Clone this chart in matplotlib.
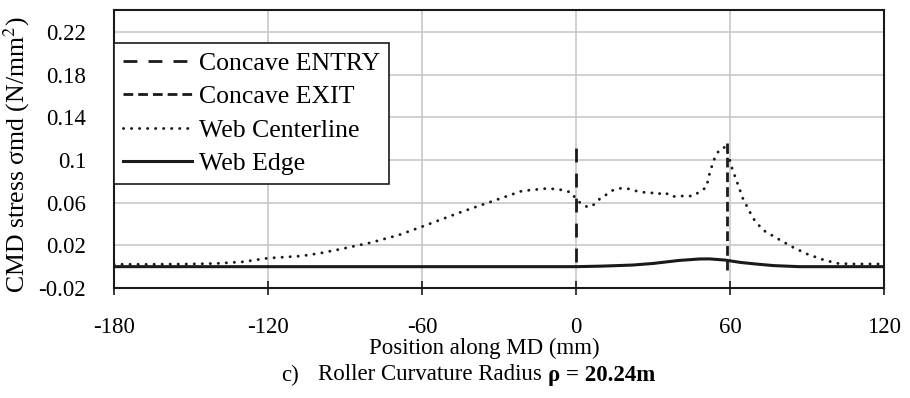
import matplotlib
matplotlib.use("Agg")
import matplotlib.pyplot as plt

# Web centerline (dotted)
center_x = [-180, -166, -150, -140, -130, -120, -107, -100, -92, -80, -69, -60,
            -45, -30, -21, -11, -5, -1.6, 0, 2.3, 4.7, 7.4, 9.4, 12, 14.5, 17.1,
            19.7, 22.9, 26.2, 28.8, 31.4, 34.6, 37.2, 39.8, 42.4, 45.6, 48.2,
            50.8, 52.2, 54.2, 56, 58.4, 60.8, 62.7, 65, 69, 72.8, 78.3, 84.1,
            90, 95.8, 101.7, 108, 120]
center_y = [0.0022, 0.0022, 0.0025, 0.003, 0.0045, 0.008, 0.010, 0.0125, 0.0163,
            0.0225, 0.0297, 0.0375, 0.051, 0.0635, 0.071, 0.0734, 0.0718, 0.0693,
            0.063, 0.0587, 0.0556, 0.0587, 0.064, 0.0678, 0.0718, 0.0734, 0.0734,
            0.0712, 0.0697, 0.0697, 0.0678, 0.0697, 0.0656, 0.0662, 0.0662,
            0.0662, 0.0703, 0.0744, 0.089, 0.103, 0.110, 0.1124, 0.0922, 0.0796,
            0.0641, 0.0453, 0.0344, 0.0266, 0.0187, 0.0119, 0.0069, 0.0031,
            0.0025, 0.0025]

# Web edge (solid)
edge_x = [-180, 0, 10, 22, 30, 40, 48, 52, 58, 64, 70, 77, 87, 120]
edge_y = [0.0, 0.0, 0.0005, 0.0015, 0.003, 0.0058, 0.0072, 0.0073, 0.0062,
          0.004, 0.0025, 0.001, 0.0, 0.0]

# Concave entry / exit markers
entry_x = [0, 0]
entry_y = [0.004, 0.116]
exit_x = [59, 59]
exit_y = [-0.003, 0.116]

x_ticks = [-180, -120, -60, 0, 60, 120]
y_ticks = [-0.02, 0.02, 0.06, 0.1, 0.14, 0.18, 0.22]
y_labels = ["-0.02", "0.02", "0.06", "0.1", "0.14", "0.18", "0.22"]

plt.rcParams["font.family"] = ["Liberation Serif", "DejaVu Serif"]
plt.rcParams["mathtext.fontset"] = "stix"

W, H = 910, 398
fig = plt.figure(figsize=(W / 100, H / 100), dpi=100)
ax = fig.add_axes([114 / W, 1 - 288 / H, (884 - 114) / W, (288 - 10) / H])

ink = "#1a1a1a"
ax.plot(entry_x, entry_y, color=ink, lw=2.0, dashes=(5, 4), label="Concave ENTRY")
ax.plot(exit_x, exit_y, color=ink, lw=2.0, dashes=(3.5, 1.8), label="Concave EXIT")
ax.plot(center_x, center_y, color=ink, lw=2.1, linestyle=(0, (0.05, 2.7)),
        dash_capstyle="round", label="Web Centerline")
ax.plot(edge_x, edge_y, color=ink, lw=2.2, label="Web Edge")

ax.set_xlim(-180, 120)
ax.set_ylim(-0.02, 0.2406)
ax.set_xticks(x_ticks)
ax.set_xticklabels([str(v) for v in x_ticks])
ax.set_yticks(y_ticks)
ax.set_yticklabels(y_labels)
ax.grid(True, color="#c8c8c8", lw=1.2)
ax.set_axisbelow(True)

for s in ax.spines.values():
    s.set_color(ink)
    s.set_linewidth(1.5)
ax.tick_params(axis="x", direction="inout", length=9.5, width=1.2, color=ink,
               labelsize=16.5, pad=16)
ax.tick_params(axis="y", length=0, labelsize=16.5, pad=20)

ax.set_ylabel("CMD stress σmd (N/mm$^2$)", fontsize=18.5)
ax.yaxis.set_label_coords(-82 / 770, 0.48)

fig.text(484 / W, 1 - 348 / H, "Position along MD (mm)", fontsize=16.5,
         ha="center", va="center")
fig.text(281 / W, 1 - 375 / H, "c)", fontsize=16.5, ha="left", va="center")
t1 = fig.text(318 / W, 1 - 375 / H, "Roller Curvature Radius ",
              fontsize=16.5, ha="left", va="center")
ax.annotate("ρ = 20.24m", xy=(1, 0), xycoords=t1, va="bottom", ha="left",
            fontsize=16.5, fontweight="bold")

leg = ax.legend(loc="upper left", bbox_to_anchor=(0, (288 - 43) / 278),
                borderaxespad=0, fontsize=18.5, handlelength=2.7,
                handletextpad=0.25, labelspacing=0.4, borderpad=0.35,
                fancybox=False, framealpha=1, edgecolor=ink)
leg.get_frame().set_linewidth(1.2)

fig.savefig("out.png", dpi=100)
